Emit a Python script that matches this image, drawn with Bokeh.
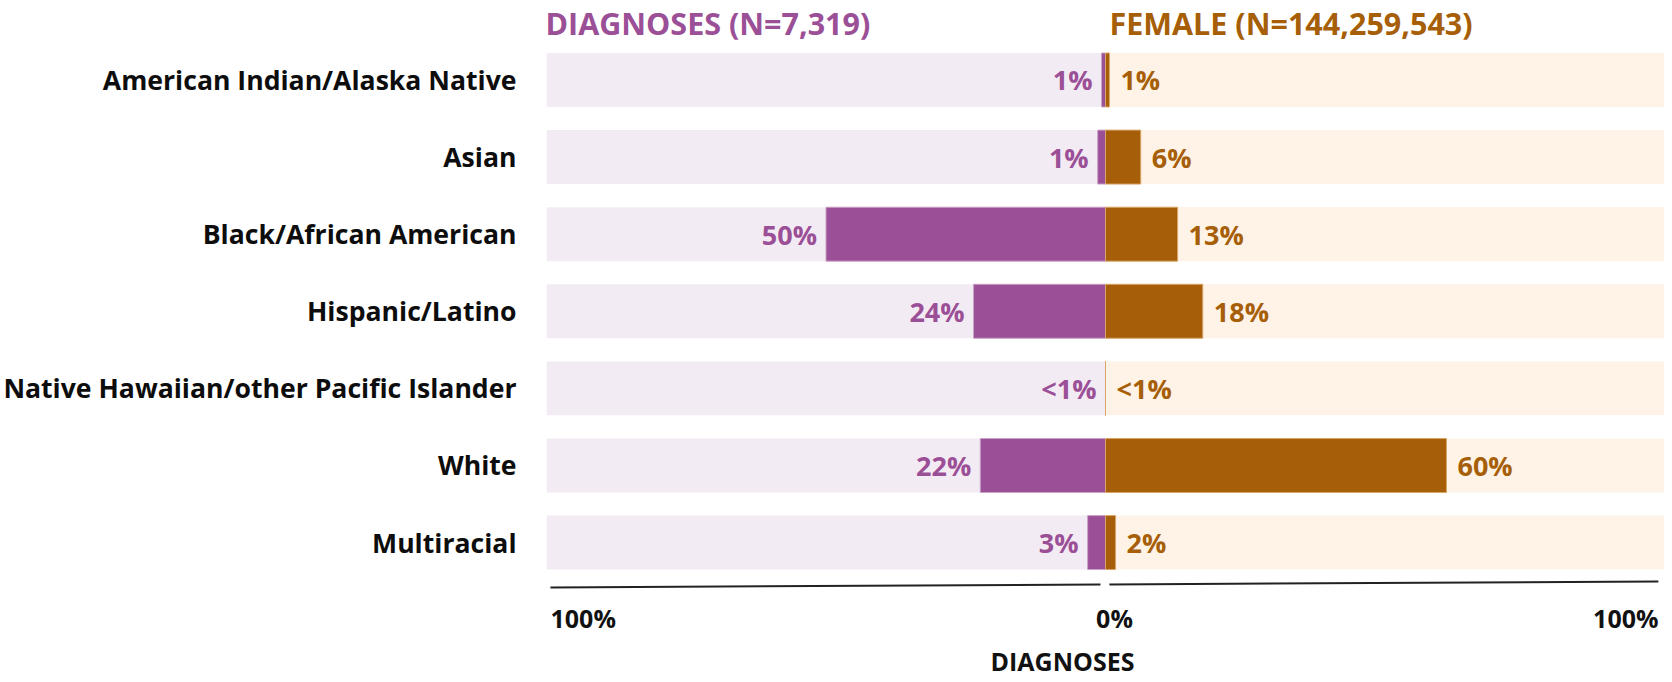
from bokeh.plotting import figure
from bokeh.models import Range1d, FixedTicker
from bokeh.core.properties import value
from bokeh.embed import file_html
from bokeh.resources import INLINE

# ---------------- data ----------------
categories = [
    "American Indian/Alaska Native",
    "Asian",
    "Black/African American",
    "Hispanic/Latino",
    "Native Hawaiian/other Pacific Islander",
    "White",
    "Multiracial",
]
diagnoses_pct = [0.7, 1.4, 50.0, 23.6, 0.0, 22.4, 3.2]
female_pct = [0.7, 6.3, 12.9, 17.4, 0.0, 61.0, 1.8]
diagnoses_labels = ["1%", "1%", "50%", "24%", "<1%", "22%", "3%"]
female_labels = ["1%", "6%", "13%", "18%", "<1%", "60%", "2%"]
tick_values = [-100, 0, 100]
tick_labels = ["100%", "0%", "100%"]
diagnoses_title = "DIAGNOSES (N=7,319)"
female_title = "FEMALE (N=144,259,543)"
axis_title = "DIAGNOSES"

# ---------------- style ----------------
PURPLE = "#9B4F96"
PURPLE_LIGHT = "#F3EBF4"
BROWN = "#A65F08"
BROWN_LIGHT = "#FEF3E6"
FONT_NAME = "Open Sans"
FONT = value(FONT_NAME)

rows = [-i for i in range(len(categories))]
neg_diag = [-v for v in diagnoses_pct]

p = figure(
    width=1668, height=680,
    x_range=Range1d(-100, 100), y_range=Range1d(-7.789, 1.031),
    x_axis_location=None,
    output_backend="svg", toolbar_location=None,
    min_border_left=546, min_border_right=4, min_border_top=0, min_border_bottom=0,
)
p.grid.visible = False
p.outline_line_color = None

# y axis with category names
p.yaxis.ticker = FixedTicker(ticks=rows)
p.yaxis.major_label_overrides = {r: c for r, c in zip(rows, categories)}
p.yaxis.axis_line_color = None
p.yaxis.major_tick_line_color = None
p.yaxis.minor_tick_line_color = None
p.yaxis.major_tick_out = 0
p.yaxis.major_tick_in = 0
p.yaxis.major_label_standoff = 30
p.yaxis.major_label_text_font = FONT_NAME
p.yaxis.major_label_text_font_style = "bold"
p.yaxis.major_label_text_font_size = "26.6px"
p.yaxis.major_label_text_color = "#0d0d0d"

# background bars
p.hbar(y=rows, left=-100, right=0, height=0.7, fill_color=PURPLE_LIGHT, line_color=None)
p.hbar(y=rows, left=0, right=100, height=0.7, fill_color=BROWN_LIGHT, line_color=None)

# value bars
p.hbar(y=rows, left=neg_diag, right=0, height=0.7, fill_color=PURPLE,
       line_color="#C9A3C6", line_width=1)
p.hbar(y=rows, left=0, right=female_pct, height=0.7, fill_color=BROWN,
       line_color="#D8A66A", line_width=1)

# value labels
p.text(x=neg_diag, y=rows, text=diagnoses_labels, x_offset=-9,
       text_align="right", text_baseline="middle", text_font=FONT,
       text_font_style="bold", text_font_size="27px", text_color=PURPLE)
p.text(x=female_pct, y=rows, text=female_labels, x_offset=11,
       text_align="left", text_baseline="middle", text_font=FONT,
       text_font_style="bold", text_font_size="27px", text_color=BROWN)

# headers
p.text(x=[-100], y=[0.733], text=[diagnoses_title], x_offset=-1,
       text_align="left", text_baseline="middle", text_font=FONT,
       text_font_style="bold", text_font_size="30.5px", text_color=PURPLE)
p.text(x=[0], y=[0.733], text=[female_title], x_offset=4,
       text_align="left", text_baseline="middle", text_font=FONT,
       text_font_style="bold", text_font_size="30.5px", text_color=BROWN)

# bottom axis lines (two halves, slightly tilted as in the source)
p.segment(x0=[-99.3, 0.7], y0=[-6.582, -6.543], x1=[-0.9, 98.9], y1=[-6.543, -6.505],
          line_color="#222222", line_width=2)

# tick labels
p.text(x=[tick_values[0]], y=[-6.978], text=[tick_labels[0]], x_offset=4,
       text_align="left", text_baseline="middle", text_font=FONT,
       text_font_style="bold", text_font_size="25px", text_color="#111111")
p.text(x=[tick_values[1]], y=[-6.978], text=[tick_labels[1]], x_offset=9,
       text_align="center", text_baseline="middle", text_font=FONT,
       text_font_style="bold", text_font_size="25px", text_color="#111111")
p.text(x=[tick_values[2]], y=[-6.978], text=[tick_labels[2]], x_offset=-6,
       text_align="right", text_baseline="middle", text_font=FONT,
       text_font_style="bold", text_font_size="25px", text_color="#111111")

# axis title
p.text(x=[0], y=[-7.535], text=[axis_title], x_offset=-43,
       text_align="center", text_baseline="middle", text_font=FONT,
       text_font_style="bold", text_font_size="25px", text_color="#111111")

open("out.html", "w").write(file_html(p, INLINE))
